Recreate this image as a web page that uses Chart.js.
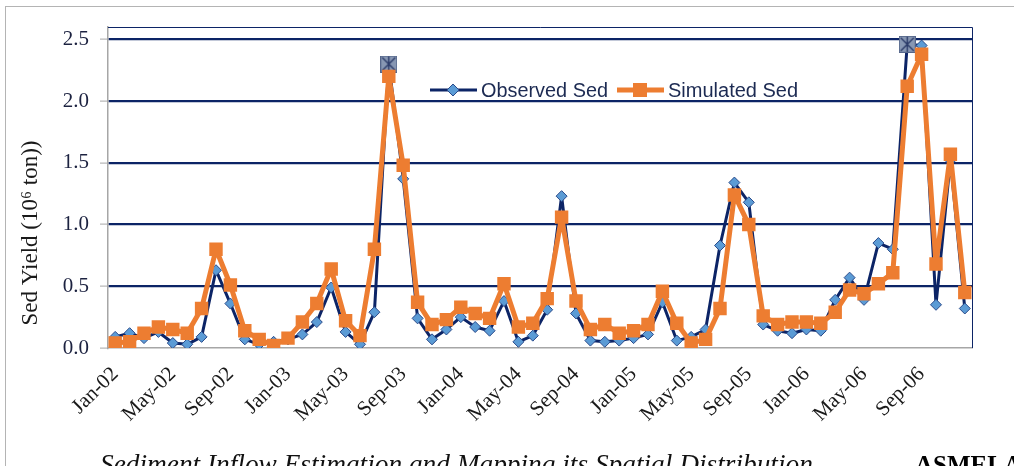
<!DOCTYPE html>
<html>
<head>
<meta charset="utf-8">
<script src="https://cdn.jsdelivr.net/npm/chart.js@4"></script>
<style>
    html, body { margin: 0; padding: 0; background: #fff; }
    body { width: 1014px; height: 466px; overflow: hidden; position: relative; }
    #frame { position: absolute; left: 5px; top: 6px; width: 1020px; height: 480px;
             border-top: 1px solid #b4b4b4; border-left: 1px solid #b4b4b4; }
    #wrap { position: absolute; left: 0; top: 0; width: 1014px; height: 466px; }
    #caption { position: absolute; left: 100px; top: 449px; white-space: nowrap;
               font-family: "Liberation Serif", serif; font-style: italic; font-size: 25px; color: #111; }
    #badge { position: absolute; left: 915px; top: 451px; white-space: nowrap;
             font-family: "Liberation Serif", serif; font-weight: bold; font-size: 25px; color: #000; }
</style>
</head>
<body>
<div id="frame"></div>
<div id="wrap"><canvas id="chart" width="1014" height="466"></canvas></div>
<div id="caption">Sediment Inflow Estimation and Mapping its Spatial Distribution</div>
<div id="badge">ASMELA</div>
<script>
const months = [
    'Jan-02','Feb-02','Mar-02','Apr-02','May-02','Jun-02','Jul-02','Aug-02','Sep-02','Oct-02','Nov-02','Dec-02',
    'Jan-03','Feb-03','Mar-03','Apr-03','May-03','Jun-03','Jul-03','Aug-03','Sep-03','Oct-03','Nov-03','Dec-03',
    'Jan-04','Feb-04','Mar-04','Apr-04','May-04','Jun-04','Jul-04','Aug-04','Sep-04','Oct-04','Nov-04','Dec-04',
    'Jan-05','Feb-05','Mar-05','Apr-05','May-05','Jun-05','Jul-05','Aug-05','Sep-05','Oct-05','Nov-05','Dec-05',
    'Jan-06','Feb-06','Mar-06','Apr-06','May-06','Jun-06','Jul-06','Aug-06','Sep-06','Oct-06','Nov-06','Dec-06'
];
const shownLabels = ['Jan-02','May-02','Sep-02','Jan-03','May-03','Sep-03','Jan-04','May-04','Sep-04',
                     'Jan-05','May-05','Sep-05','Jan-06','May-06','Sep-06'];
const yTicks = [0, 0.5, 1.0, 1.5, 2.0, 2.5];

const observed = [
    0.09, 0.12, 0.08, 0.13, 0.04, 0.03, 0.09, 0.63, 0.36, 0.07, 0.03, 0.05,
    0.07, 0.11, 0.21, 0.49, 0.13, 0.03, 0.29, 2.30, 1.37, 0.24, 0.07, 0.15,
    0.25, 0.17, 0.14, 0.38, 0.05, 0.10, 0.31, 1.23, 0.28, 0.06, 0.05, 0.06,
    0.08, 0.11, 0.37, 0.06, 0.09, 0.15, 0.83, 1.34, 1.18, 0.19, 0.14, 0.12,
    0.15, 0.14, 0.39, 0.57, 0.39, 0.85, 0.80, 2.46, 2.45, 0.35, 1.52, 0.32
];
const simulated = [
    0.04, 0.05, 0.12, 0.17, 0.15, 0.12, 0.32, 0.80, 0.51, 0.14, 0.07, 0.02,
    0.08, 0.21, 0.36, 0.64, 0.22, 0.10, 0.80, 2.20, 1.48, 0.37, 0.19, 0.23,
    0.33, 0.28, 0.24, 0.52, 0.17, 0.20, 0.40, 1.06, 0.38, 0.15, 0.19, 0.12,
    0.14, 0.19, 0.46, 0.20, 0.04, 0.07, 0.32, 1.24, 1.00, 0.26, 0.19, 0.21,
    0.21, 0.20, 0.29, 0.47, 0.44, 0.52, 0.61, 2.12, 2.38, 0.68, 1.57, 0.45
];
// observed peaks get the boxed-X marker
const peakMonths = ['Aug-03', 'Aug-06'];

const NAVY = '#0c2466';
const ORANGE = '#ED7D31';
const DIAMOND = '#5b9bd5';

// boxed X marker for the peaks
function boxedX() {
    const c = document.createElement('canvas');
    c.width = 17; c.height = 17;
    const g = c.getContext('2d');
    g.fillStyle = '#8797b3';
    g.fillRect(0, 0, 17, 17);
    g.strokeStyle = '#55668a';
    g.lineWidth = 1;
    g.strokeRect(0.5, 0.5, 16, 16);
    g.strokeStyle = '#2a3a68';
    g.lineWidth = 1.4;
    g.beginPath();
    g.moveTo(2, 2); g.lineTo(15, 15);
    g.moveTo(15, 2); g.lineTo(2, 15);
    g.moveTo(8.5, 1); g.lineTo(8.5, 16);
    g.stroke();
    return c;
}
const peakImg = boxedX();
const obsStyles = months.map(m => peakMonths.includes(m) ? peakImg : 'rectRot');

// legend + y title + plot frame drawn on the canvas
const extras = {
    id: 'extras',
    afterDraw(chart) {
        const { ctx, chartArea: a } = chart;
        ctx.save();
        // navy top/right border of plot area
        ctx.strokeStyle = NAVY;
        ctx.lineWidth = 1;
        ctx.beginPath();
        ctx.moveTo(a.left, a.top + 0.5); ctx.lineTo(a.right + 0.5, a.top + 0.5);
        ctx.lineTo(a.right + 0.5, a.bottom);
        ctx.stroke();

        // y title
        ctx.translate(31, 233);
        ctx.rotate(-Math.PI / 2);
        ctx.font = '23px "Liberation Serif", serif';
        ctx.fillStyle = '#1a1a1a';
        ctx.textAlign = 'center';
        ctx.textBaseline = 'middle';
        ctx.fillText('Sed Yield (10⁶ ton))', 0, 0);
        ctx.restore();

        // legend
        ctx.save();
        const ly = 90;
        ctx.font = '20px "Liberation Sans", sans-serif';
        ctx.textBaseline = 'middle';
        ctx.lineCap = 'butt';
        ctx.strokeStyle = NAVY; ctx.lineWidth = 3;
        ctx.beginPath(); ctx.moveTo(430, ly); ctx.lineTo(477, ly); ctx.stroke();
        ctx.beginPath();
        ctx.moveTo(453, ly - 6); ctx.lineTo(459, ly); ctx.lineTo(453, ly + 6); ctx.lineTo(447, ly); ctx.closePath();
        ctx.fillStyle = DIAMOND; ctx.fill();
        ctx.strokeStyle = '#2a4a8a'; ctx.lineWidth = 1; ctx.stroke();
        ctx.fillStyle = '#1c2a52';
        ctx.fillText('Observed Sed', 481, ly + 1, 127);

        ctx.strokeStyle = ORANGE; ctx.lineWidth = 5;
        ctx.beginPath(); ctx.moveTo(617, ly); ctx.lineTo(664, ly); ctx.stroke();
        ctx.fillStyle = ORANGE;
        ctx.fillRect(633, ly - 7, 14, 14);
        ctx.fillStyle = '#1c2a52';
        ctx.fillText('Simulated Sed', 668, ly + 1, 134);
        ctx.restore();
    }
};

const serif = { family: '"Liberation Serif", serif', size: 21 };

new Chart(document.getElementById('chart'), {
    type: 'line',
    data: {
        labels: months,
        datasets: [
            {
                label: 'Observed Sed',
                data: observed,
                order: 2,
                borderColor: NAVY,
                borderWidth: 3,
                borderJoinStyle: 'round',
                tension: 0,
                pointStyle: obsStyles,
                pointRadius: 5.5,
                pointBackgroundColor: DIAMOND,
                pointBorderColor: '#2a4a8a',
                pointBorderWidth: 1
            },
            {
                label: 'Simulated Sed',
                data: simulated,
                order: 1,
                borderColor: ORANGE,
                borderWidth: 5,
                borderJoinStyle: 'round',
                tension: 0,
                pointStyle: 'rect',
                pointRadius: 9.5,
                pointBackgroundColor: ORANGE,
                pointBorderColor: ORANGE,
                pointBorderWidth: 0
            }
        ]
    },
    options: {
        responsive: false,
        animation: false,
        layout: { padding: { left: 0, top: 27, right: 42, bottom: 0 } },
        plugins: {
            legend: { display: false },
            tooltip: { enabled: false }
        },
        scales: {
            x: {
                offset: true,
                afterFit: s => { s.height = 118; },
                grid: { display: false, drawTicks: false },
                border: { display: true, color: '#a6a6a6', width: 1.5 },
                ticks: {
                    autoSkip: false,
                    maxRotation: 45,
                    minRotation: 45,
                    padding: 14,
                    color: '#1a1a1a',
                    font: serif,
                    callback: (v, i) => shownLabels.includes(months[i]) ? months[i] : ''
                }
            },
            y: {
                min: 0,
                max: 2.6,
                afterFit: s => { s.width = 108; },
                afterBuildTicks: s => { s.ticks = yTicks.map(v => ({ value: v })); },
                grid: {
                    color: c => c.tick && c.tick.value === 0 ? 'rgba(0,0,0,0)' : NAVY,
                    lineWidth: 2.2,
                    tickLength: 8,
                    tickColor: '#a6a6a6',
                    tickWidth: 1
                },
                border: { display: true, color: '#a6a6a6', width: 1.5 },
                ticks: {
                    padding: 11,
                    color: '#1c2240',
                    font: serif,
                    callback: v => v.toFixed(1)
                }
            }
        }
    },
    plugins: [extras]
});

// stretch caption to the width it has in the page
const cap = document.getElementById('caption');
const w = cap.getBoundingClientRect().width;
cap.style.fontSize = (25 * 713 / w).toFixed(2) + 'px';
</script>
</body>
</html>
